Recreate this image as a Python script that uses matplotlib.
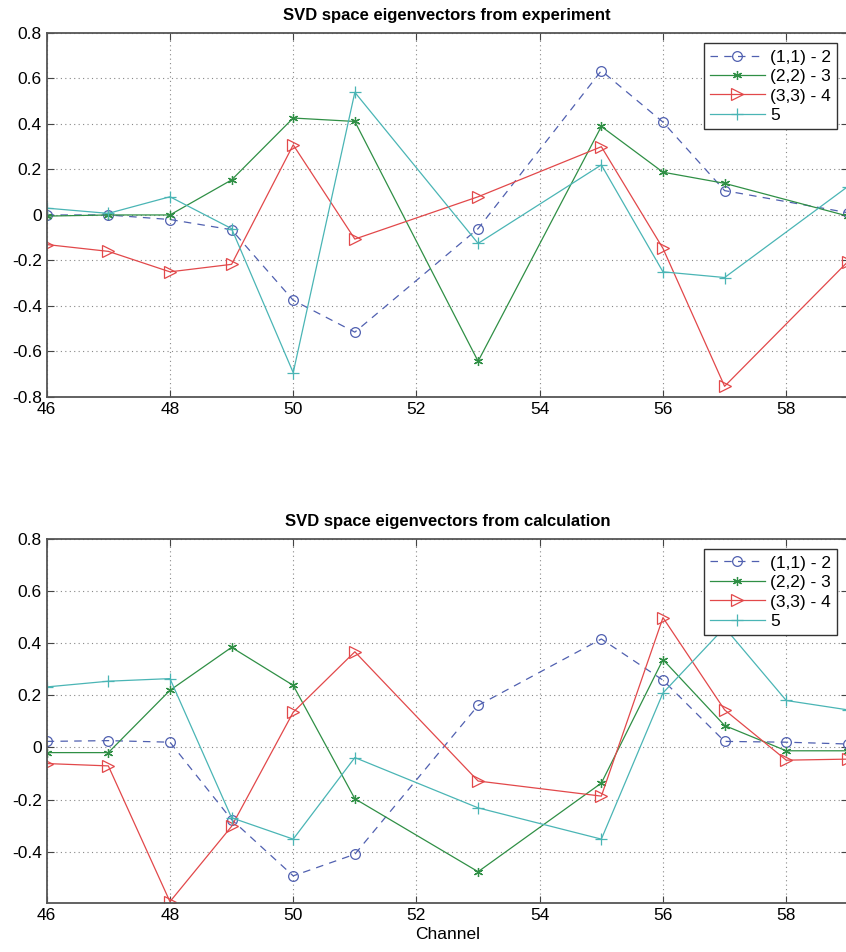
import numpy as np
import matplotlib
matplotlib.use('Agg')
import matplotlib.pyplot as plt

plt.rcParams['font.family'] = ['Liberation Sans', 'DejaVu Sans']

# experiment (top panel)
ch_exp = [46, 47, 48, 49, 50, 51, 53, 55, 56, 57, 59]
exp_11 = [0.0, 0.0, -0.02, -0.065, -0.375, -0.515, -0.06, 0.634, 0.408, 0.107, 0.01]
exp_22 = [-0.005, 0.0, 0.0, 0.154, 0.426, 0.411, -0.643, 0.389, 0.188, 0.139, -0.005]
exp_33 = [-0.13, -0.16, -0.25, -0.217, 0.308, -0.106, 0.08, 0.30, -0.147, -0.753, -0.205]
exp_5 = [0.03, 0.007, 0.08, -0.06, -0.693, 0.539, -0.125, 0.22, -0.25, -0.275, 0.125]

# calculation (bottom panel)
ch_calc = [46, 47, 48, 49, 50, 51, 53, 55, 56, 57, 58, 59]
calc_11 = [0.023, 0.026, 0.02, -0.277, -0.493, -0.41, 0.161, 0.416, 0.258, 0.023, 0.02, 0.013]
calc_22 = [-0.02, -0.02, 0.219, 0.384, 0.238, -0.197, -0.477, -0.137, 0.337, 0.084, -0.013, -0.013]
calc_33 = [-0.062, -0.071, -0.592, -0.303, 0.135, 0.367, -0.129, -0.187, 0.498, 0.144, -0.049, -0.045]
calc_5 = [0.232, 0.254, 0.264, -0.27, -0.352, -0.039, -0.232, -0.352, 0.209, 0.46, 0.18, 0.144]

labels = ['(1,1) - 2', '(2,2) - 3', '(3,3) - 4', '5']

c_blue = '#5060b0'
c_green = '#2f8f45'
c_red = '#e2484a'
c_cyan = '#4ab5b5'


def draw(ax, x, s1, s2, s3, s4, title, ylim):
    ax.plot(x, s1, '--', color=c_blue, lw=0.9, marker='o', ms=7, mfc='none',
            mec=c_blue, mew=0.9, dashes=(6, 5), label=labels[0])
    ax.plot(x, s2, '-', color=c_green, lw=0.9, marker=(6, 2, 0), ms=6.5,
            mew=0.9, label=labels[1])
    ax.plot(x, s3, '-', color=c_red, lw=0.9, marker='>', ms=8, mfc='none',
            mec=c_red, mew=0.9, label=labels[2])
    ax.plot(x, s4, '-', color=c_cyan, lw=0.9, marker='+', ms=9, mew=0.9,
            label=labels[3])
    yt = np.round(np.arange(-0.8, 0.81, 0.2), 1)
    ax.set_xticks(np.arange(46, 59, 2))
    ax.set_yticks(yt)
    ax.set_yticklabels(['-0.8', '-0.6', '-0.4', '-0.2', '0', '0.2', '0.4', '0.6', '0.8'])
    ax.set_xlim(46, 59)
    ax.set_ylim(*ylim)
    ax.grid(True, ls=(0, (1, 3)), color='#888888', lw=0.8)
    ax.tick_params(direction='in', top=True, right=True, length=5,
                   labelsize=12.5, color='#444444')
    for sp in ax.spines.values():
        sp.set_color('#555555')
        sp.set_linewidth(1.3)
    ax.set_title(title, fontsize=12, fontweight='bold', pad=9)
    leg = ax.legend(loc='upper right', fontsize=12.5, handlelength=3.2,
                    fancybox=False, framealpha=1, edgecolor='#333333',
                    borderaxespad=0.6, borderpad=0.35, labelspacing=0.25,
                    handletextpad=0.3)
    leg.get_frame().set_linewidth(1.0)


fig = plt.figure(figsize=(8.46, 9.52), dpi=100)
ax1 = fig.add_axes([0.0552, 0.583, 0.947, 0.3824])
ax2 = fig.add_axes([0.0552, 0.0515, 0.947, 0.3824])

draw(ax1, ch_exp, exp_11, exp_22, exp_33, exp_5,
     'SVD space eigenvectors from experiment', (-0.8, 0.8))
draw(ax2, ch_calc, calc_11, calc_22, calc_33, calc_5,
     'SVD space eigenvectors from calculation', (-0.597, 0.8))
ax2.set_xlabel('Channel', fontsize=12.5, labelpad=3)

fig.savefig('out.png', dpi=100)
